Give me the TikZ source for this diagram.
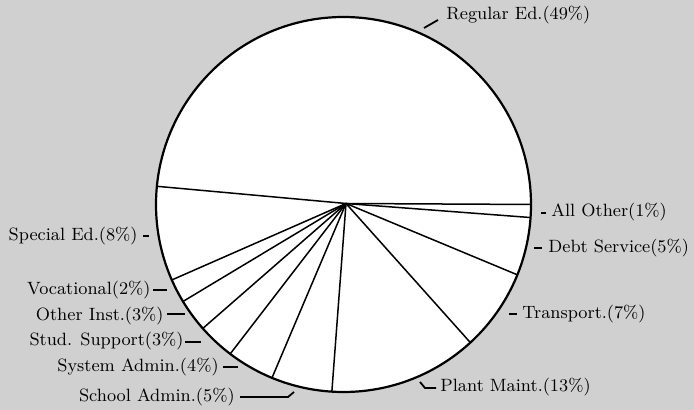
\documentclass[tikz,border=0pt]{standalone}
\usetikzlibrary{calc}
\definecolor{bgstip}{RGB}{208,208,208}
\tikzset{
  rim/.style={line width=1.1pt},
  spoke/.style={line width=0.75pt},
  tick/.style={line width=0.9pt},
  lab/.style={inner sep=0pt, font=\fontsize{8.9}{10}\selectfont}
}
\begin{document}
\begin{tikzpicture}[x=0.5pt,y=-0.5pt]
\useasboundingbox[fill=bgstip] (0,0) rectangle (694,410);
\coordinate (o) at (343.5,204.5);
\coordinate (c) at (346,203.5);
\fill[white] (o) circle[radius=93.75pt];
% spokes, measured boundary angles (clockwise on the page)
\begin{scope}
\clip (o) circle[radius=93.75pt];
\foreach \a [count=\i] in {0.3,4.35,22.6,48.2,94.3,113.0,127.6,138.9,149.0,156.3,185.2}{
  \coordinate (p\i) at ($(c)+(\a:200)$);
  \draw[spoke] (c) -- (p\i);
}
\end{scope}
\draw[rim] (o) circle[radius=93.75pt];
% labels
\node[lab,anchor=west] (reg) at (446,15) {Regular Ed.(49\%)};
\coordinate (reg1) at (424,28); \coordinate (reg2) at (438,20);
\draw[tick] (reg1) -- (reg2);

\node[lab,anchor=west] (oth) at (551,212) {All Other(1\%)};
\coordinate (oth1) at (541,213); \coordinate (oth2) at (546,213);
\draw[tick] (oth1) -- (oth2);

\node[lab,anchor=west] (debt) at (548,248) {Debt Service(5\%)};
\coordinate (debt1) at (534,248); \coordinate (debt2) at (542,248);
\draw[tick] (debt1) -- (debt2);

\node[lab,anchor=west] (tra) at (522,314) {Transport.(7\%)};
\coordinate (tra1) at (509,314); \coordinate (tra2) at (517,314);
\draw[tick] (tra1) -- (tra2);

\node[lab,anchor=west] (pla) at (440,387) {Plant Maint.(13\%)};
\coordinate (pla1) at (420,382); \coordinate (pla2) at (425,388); \coordinate (pla3) at (436,388);
\draw[tick] (pla1) -- (pla2) -- (pla3);

\node[lab,anchor=east] (sch) at (235,397) {School Admin.(5\%)};
\coordinate (sch1) at (240,397); \coordinate (sch2) at (288,397); \coordinate (sch3) at (294,392);
\draw[tick] (sch1) -- (sch2) -- (sch3);

\node[lab,anchor=east] (sys) at (219,367) {System Admin.(4\%)};
\coordinate (sys1) at (223,367); \coordinate (sys2) at (238,367);
\draw[tick] (sys1) -- (sys2);

\node[lab,anchor=east] (stu) at (184,341) {Stud. Support(3\%)};
\coordinate (stu1) at (185,342); \coordinate (stu2) at (201,342);
\draw[tick] (stu1) -- (stu2);

\node[lab,anchor=east] (oin) at (164,316) {Other Inst.(3\%)};
\coordinate (oin1) at (167,314); \coordinate (oin2) at (185,314);
\draw[tick] (oin1) -- (oin2);

\node[lab,anchor=east] (voc) at (151,290) {Vocational(2\%)};
\coordinate (voc1) at (153,290); \coordinate (voc2) at (167,290);
\draw[tick] (voc1) -- (voc2);

\node[lab,anchor=east] (spe) at (138,236) {Special Ed.(8\%)};
\coordinate (spe1) at (143,236); \coordinate (spe2) at (149,236);
\draw[tick] (spe1) -- (spe2);
\end{tikzpicture}
\end{document}
